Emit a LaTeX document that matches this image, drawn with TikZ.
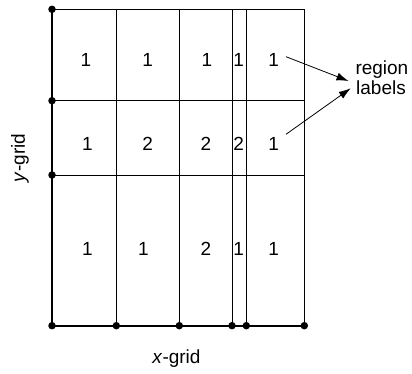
\documentclass[tikz,border=0pt]{standalone}
\usepackage{fontspec}
\setmainfont{Liberation Sans}
\usetikzlibrary{arrows.meta}
\begin{document}
\begin{tikzpicture}[x=1pt,y=-1pt,
  thin line/.style={line width=0.8pt},
  thick line/.style={line width=2.4pt},
  gdot/.style={circle,fill=black,inner sep=0pt,minimum size=7.5pt},
  lbl/.style={font=\fontsize{19}{22}\selectfont,inner sep=0pt},
  arr/.style={line width=0.8pt,-{Latex[length=12pt,width=8pt]}}]
\useasboundingbox (0,0) rectangle (412,374);
% grid lines
\draw[thin line] (52,9.3) -- (304.3,9.3) -- (304.3,325.7);
\draw[thin line] (52,100.7) -- (304.3,100.7);
\draw[thin line] (52,175) -- (304.3,175);
\foreach \x in {116.3,179.3,232,246.3}
  \draw[thin line] (\x,9.3) -- (\x,325.7);
\draw[thick line] (52,9.3) -- (52,325.7) -- (304.3,325.7);
% dots
\node[gdot] (ya) at (52,9.3) {};
\node[gdot] (yb) at (52,100.7) {};
\node[gdot] (yc) at (52,175) {};
\node[gdot] (o) at (52,325.7) {};
\node[gdot] (xa) at (116.3,325.7) {};
\node[gdot] (xb) at (179.3,325.7) {};
\node[gdot] (xc) at (232,325.7) {};
\node[gdot] (xd) at (246.3,325.7) {};
\node[gdot] (xe) at (304.3,325.7) {};
% region labels
\node[lbl] (r11) at (86,60) {1};
\node[lbl] (r12) at (147.7,60) {1};
\node[lbl] (r13) at (207,60) {1};
\node[lbl] (r14) at (238.7,60) {1};
\node[lbl] (r15) at (273.7,60) {1};
\node[lbl] (r21) at (87.3,144) {1};
\node[lbl] (r22) at (147.7,144) {2};
\node[lbl] (r23) at (206,144) {2};
\node[lbl] (r24) at (238.7,144) {2};
\node[lbl] (r25) at (273.7,144) {1};
\node[lbl] (r31) at (87.3,249) {1};
\node[lbl] (r32) at (143.3,249) {1};
\node[lbl] (r33) at (206,249) {2};
\node[lbl] (r34) at (238.7,249) {1};
\node[lbl] (r35) at (273.7,249) {1};
% annotation
\node[lbl,anchor=base west] (rla) at (355.3,75) {region};
\node[lbl,anchor=base west] (rlb) at (356,95) {labels};
\coordinate (a1) at (286,56.7);
\coordinate (a2) at (286,134.3);
\coordinate (t1) at (348.5,81);
\coordinate (t2) at (350.7,88.3);
\draw[arr] (a1) -- (t1);
\draw[arr] (a2) -- (t2);
\node[lbl,rotate=90] (yg) at (20,158) {\textit{y}-grid};
\node[lbl] (xg) at (176.5,359) {\textit{x}-grid};
\end{tikzpicture}
\end{document}
